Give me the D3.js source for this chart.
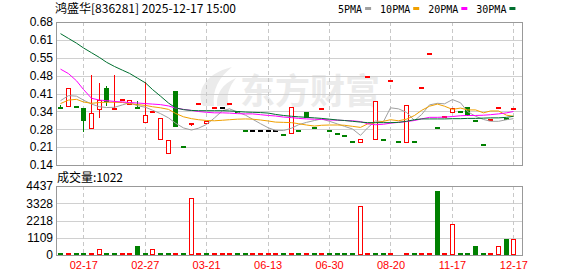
<!DOCTYPE html>
<html>
<head>
<meta charset="utf-8">
<script src="https://cdn.jsdelivr.net/npm/d3@7"></script>
<style>
  body { margin: 0; background: #fff; }
  svg { display: block; }
</style>
</head>
<body>
<div id="chart"></div>
<script>
// daily candles, oldest first (60 sessions)
const opens = [0.360,0.361,0.358,0.357,0.281,0.353,0.432,0.354,0.385,0.372,
  0.358,0.301,0.339,0.240,0.187,0.420,0.207,0.297,0.370,0.299,
  0.357,0.357,0.370,0.339,0.268,0.268,0.268,0.268,0.268,0.255,
  0.259,0.268,0.339,0.279,0.350,0.268,0.256,0.249,0.226,0.228,
  0.472,0.240,0.236,0.459,0.225,0.228,0.225,0.429,0.561,0.285,
  0.320,0.342,0.339,0.358,0.308,0.217,0.310,0.357,0.315,0.350];
const highs = [0.371,0.430,0.358,0.358,0.483,0.453,0.443,0.483,0.385,0.386,
  0.387,0.459,0.339,0.318,0.236,0.420,0.207,0.299,0.370,0.307,
  0.357,0.357,0.370,0.339,0.268,0.268,0.268,0.268,0.268,0.255,
  0.358,0.268,0.339,0.279,0.350,0.268,0.256,0.249,0.226,0.237,
  0.472,0.381,0.236,0.459,0.225,0.368,0.225,0.429,0.561,0.285,
  0.320,0.357,0.339,0.358,0.308,0.217,0.310,0.357,0.315,0.357];
const lows = [0.358,0.361,0.358,0.267,0.281,0.322,0.368,0.354,0.385,0.372,
  0.356,0.301,0.339,0.240,0.187,0.289,0.207,0.290,0.370,0.299,
  0.357,0.357,0.370,0.339,0.268,0.268,0.268,0.268,0.268,0.255,
  0.259,0.268,0.320,0.279,0.350,0.268,0.256,0.249,0.226,0.228,
  0.472,0.240,0.236,0.459,0.225,0.228,0.225,0.429,0.561,0.280,
  0.320,0.342,0.339,0.329,0.308,0.217,0.310,0.357,0.315,0.350];
const closes = [0.358,0.430,0.358,0.311,0.338,0.387,0.382,0.356,0.385,0.386,
  0.356,0.327,0.339,0.318,0.236,0.289,0.207,0.299,0.370,0.307,
  0.357,0.357,0.370,0.339,0.268,0.268,0.268,0.268,0.268,0.255,
  0.358,0.268,0.320,0.279,0.350,0.268,0.256,0.249,0.226,0.237,
  0.472,0.381,0.236,0.459,0.225,0.368,0.225,0.429,0.561,0.280,
  0.320,0.357,0.339,0.329,0.308,0.217,0.310,0.357,0.315,0.357];
const prevClose = 0.37;
const volumes = [10,10,10,10,150,370,10,10,10,10,
  560,10,370,10,10,10,10,3660,10,10,
  10,10,10,10,10,10,10,10,10,10,
  130,10,10,10,10,10,10,10,10,3145,
  10,10,10,10,0,10,10,10,10,4110,
  10,1980,10,110,560,10,10,560,1010,1022];

// moving averages as drawn
const ma5 = [0.383,0.402,0.400,0.385,0.370,0.360,0.357,0.358,0.367,0.375,
  0.364,0.358,0.347,0.334,0.318,0.298,0.280,0.272,0.279,0.293,
  0.318,0.345,0.352,0.340,0.328,0.313,0.296,0.280,0.271,0.270,
  0.279,0.292,0.301,0.308,0.314,0.305,0.295,0.286,0.276,0.252,
  0.280,0.306,0.304,0.356,0.352,0.339,0.308,0.330,0.367,0.373,
  0.371,0.387,0.375,0.342,0.324,0.312,0.305,0.305,0.311,0.315];
const ma10 = [0.372,0.385,0.388,0.378,0.373,0.376,0.377,0.377,0.376,0.372,
  0.368,0.365,0.360,0.356,0.350,0.335,0.322,0.315,0.311,0.308,
  0.307,0.309,0.311,0.313,0.314,0.313,0.310,0.306,0.302,0.301,
  0.300,0.296,0.291,0.287,0.290,0.291,0.291,0.290,0.286,0.282,
  0.295,0.300,0.305,0.311,0.307,0.313,0.327,0.346,0.362,0.370,
  0.362,0.350,0.355,0.348,0.348,0.337,0.344,0.344,0.328,0.324];
const ma20 = [0.502,0.485,0.458,0.425,0.392,0.385,0.383,0.380,0.378,0.376,
  0.374,0.372,0.370,0.368,0.363,0.355,0.350,0.346,0.342,0.339,
  0.337,0.337,0.336,0.334,0.333,0.333,0.330,0.327,0.325,0.321,
  0.319,0.316,0.314,0.313,0.312,0.310,0.309,0.308,0.307,0.304,
  0.296,0.292,0.294,0.298,0.301,0.304,0.308,0.314,0.320,0.320,
  0.321,0.323,0.326,0.327,0.327,0.328,0.330,0.333,0.337,0.342];
const ma30 = [0.636,0.618,0.600,0.582,0.564,0.546,0.528,0.512,0.498,0.486,
  0.468,0.450,0.425,0.400,0.374,0.356,0.349,0.346,0.345,0.345,
  0.345,0.345,0.344,0.342,0.340,0.339,0.338,0.336,0.331,0.327,
  0.324,0.322,0.320,0.318,0.316,0.313,0.310,0.308,0.305,0.302,
  0.300,0.300,0.300,0.300,0.301,0.305,0.311,0.314,0.314,0.314,
  0.314,0.315,0.315,0.316,0.316,0.317,0.318,0.318,0.320,0.324];

const tickIdx = [3, 11, 19, 27, 35, 43, 51, 59];
const tickLabels = ["02-17","02-27","03-21","06-13","06-30","08-20","11-17","12-17"];
const priceTicks = [0.14, 0.2075, 0.275, 0.3425, 0.41, 0.4775, 0.545, 0.6125, 0.68];
const priceLabels = ["0.14","0.21","0.28","0.34","0.41","0.48","0.55","0.61","0.68"];
const volTicks = [0, 1109.25, 2218.5, 3327.75, 4437];
const volLabels = ["0","1109","2218","3328","4437"];

const RED = "#ff0000", GREEN = "#008000";
const legend = [
  { label: "5PMA", color: "#a0a0a0" },
  { label: "10PMA", color: "#f0a000" },
  { label: "20PMA", color: "#ff00ff" },
  { label: "30PMA", color: "#006f2f" }
];
const maSeries = [ma5, ma10, ma20, ma30];

const W = 578, H = 276;
const price = { left: 56, right: 522, top: 22, bottom: 165 };
const vol = { top: 186, bottom: 255 };
const axisFont = "'Liberation Sans', Arial, sans-serif";
const cjkFont = "'Noto Sans CJK SC', sans-serif";

const svg = d3.select("#chart").append("svg")
  .attr("width", W)
  .attr("height", H);

const x = d3.scaleBand().domain(d3.range(closes.length)).range([56.4, 517.2]);
const cx = i => Math.round(x(i) + x.bandwidth() / 2);
const y = d3.scaleLinear().domain([0.14, 0.68]).range([price.bottom, price.top]);
const yv = d3.scaleLinear().domain([0, 4437]).range([vol.bottom, vol.top]);
const py = v => Math.round(y(v)) + 0.5;

// watermark
const wm = svg.append("g").attr("fill", "#ebebeb");
wm.append("path")
  .attr("d", "M203,106 C196,92 204,74 232,67 C219,77 212,90 214,106 Z M217,106 C216,94 222,84 236,78 C228,88 226,97 229,106 Z");
wm.append("text")
  .attr("x", 240).attr("y", 104)
  .attr("font-family", cjkFont)
  .attr("font-weight", "bold")
  .attr("font-size", 35)
  .text("东方财富");

// grid
const grid = svg.append("g").attr("shape-rendering", "crispEdges");
grid.selectAll(".hp").data(priceTicks).join("line")
  .attr("x1", price.left).attr("x2", price.right)
  .attr("y1", d => py(d)).attr("y2", d => py(d))
  .attr("stroke", "#d0d0d0");
grid.selectAll(".hv").data(volTicks).join("line")
  .attr("x1", price.left).attr("x2", price.right)
  .attr("y1", d => Math.round(yv(d)) + 0.5).attr("y2", d => Math.round(yv(d)) + 0.5)
  .attr("stroke", "#d0d0d0");
[[price.top, price.bottom], [vol.top, vol.bottom]].forEach(([t, b]) => {
  grid.append("g").selectAll("line").data(tickIdx).join("line")
    .attr("x1", d => cx(d) + 0.5).attr("x2", d => cx(d) + 0.5)
    .attr("y1", t).attr("y2", b)
    .attr("stroke", "#c8c8c8")
    .attr("stroke-dasharray", "4,3");
});

// candles
const candleColor = i => {
  if (closes[i] > opens[i]) return RED;
  if (closes[i] < opens[i]) return GREEN;
  const prev = i ? closes[i - 1] : prevClose;
  return closes[i] > prev ? RED : closes[i] < prev ? GREEN : "#000";
};

const candles = svg.append("g").attr("shape-rendering", "crispEdges");
d3.range(closes.length).forEach(i => {
  const c = candleColor(i);
  const g = candles.append("g");
  if (highs[i] !== lows[i]) {
    g.append("line")
      .attr("x1", cx(i) + 0.5).attr("x2", cx(i) + 0.5)
      .attr("y1", py(highs[i])).attr("y2", py(lows[i]))
      .attr("stroke", c);
  }
  if (opens[i] === closes[i]) {
    g.append("rect")
      .attr("x", cx(i) - 2).attr("width", 5)
      .attr("y", Math.round(y(closes[i])) - 1).attr("height", 2)
      .attr("fill", c);
  } else {
    const top = py(Math.max(opens[i], closes[i]));
    const bot = py(Math.min(opens[i], closes[i]));
    g.append("rect")
      .attr("x", cx(i) - 1.5).attr("width", 4)
      .attr("y", top).attr("height", Math.max(bot - top, 1))
      .attr("fill", c === RED ? "#fff" : c)
      .attr("stroke", c);
  }
});

// moving averages
const line = d3.line().x((d, i) => cx(i) + 0.5).y(d => y(d));
svg.append("g").selectAll("path").data(maSeries).join("path")
  .attr("d", line)
  .attr("fill", "none")
  .attr("stroke", (d, k) => legend[k].color)
  .attr("stroke-width", 1);

// volume
const volG = svg.append("g").attr("shape-rendering", "crispEdges");
volumes.forEach((v, i) => {
  if (!v) return;
  const prev = i ? closes[i - 1] : prevClose;
  const up = closes[i] >= prev;
  const h = Math.max(Math.round(yv(0) - yv(v)), 2);
  if (up && h > 3) {
    volG.append("rect")
      .attr("x", cx(i) - 1.5).attr("width", 4)
      .attr("y", vol.bottom - h + 0.5).attr("height", h - 1)
      .attr("fill", "#fff").attr("stroke", RED);
  } else {
    volG.append("rect")
      .attr("x", cx(i) - 2).attr("width", 5)
      .attr("y", vol.bottom - h).attr("height", h)
      .attr("fill", up ? RED : GREEN);
  }
});

// frames
svg.append("g").attr("shape-rendering", "crispEdges")
  .selectAll("rect").data([[price.top, price.bottom], [vol.top, vol.bottom]]).join("rect")
  .attr("x", price.left + 0.5).attr("y", d => d[0] + 0.5)
  .attr("width", price.right - price.left).attr("height", d => d[1] - d[0])
  .attr("fill", "none").attr("stroke", "#999");

// axes
const yAxis = d3.axisLeft(y).tickValues(priceTicks)
  .tickFormat((d, k) => priceLabels[k]).tickSize(0).tickPadding(3);
svg.append("g").attr("transform", `translate(${price.left},0)`).call(yAxis)
  .call(g => g.select(".domain").remove())
  .selectAll("text").attr("font-family", axisFont).attr("font-size", 12).attr("fill", "#000");

const vAxis = d3.axisLeft(yv).tickValues(volTicks)
  .tickFormat((d, k) => volLabels[k]).tickSize(0).tickPadding(3);
svg.append("g").attr("transform", `translate(${price.left},0)`).call(vAxis)
  .call(g => g.select(".domain").remove())
  .selectAll("text").attr("font-family", axisFont).attr("font-size", 12).attr("fill", "#000");

const xAxis = d3.axisBottom(x).tickValues(tickIdx)
  .tickFormat((d, k) => tickLabels[k]).tickSize(0).tickPadding(6);
svg.append("g").attr("transform", `translate(0.5,${vol.bottom})`).call(xAxis)
  .call(g => g.select(".domain").remove())
  .selectAll("text").attr("font-family", axisFont).attr("font-size", 11).attr("fill", RED);

// header
svg.append("text")
  .attr("x", 55).attr("y", 13)
  .attr("font-family", cjkFont).attr("font-size", 12)
  .text("鸿盛华[836281] 2025-12-17 15:00");

svg.append("text")
  .attr("x", 57).attr("y", 182)
  .attr("font-family", cjkFont).attr("font-size", 12)
  .text("成交量:" + volumes[volumes.length - 1]);

// legend
let lx = 338;
legend.forEach(d => {
  const t = svg.append("text")
    .attr("x", lx).attr("y", 13)
    .attr("font-family", "'DejaVu Sans Mono', monospace").attr("font-size", 10)
    .text(d.label);
  const tw = t.node().getComputedTextLength();
  svg.append("rect")
    .attr("x", lx + tw + 3).attr("y", 7)
    .attr("width", 6).attr("height", 3)
    .attr("fill", d.color);
  lx += tw + 18;
});
</script>
</body>
</html>
